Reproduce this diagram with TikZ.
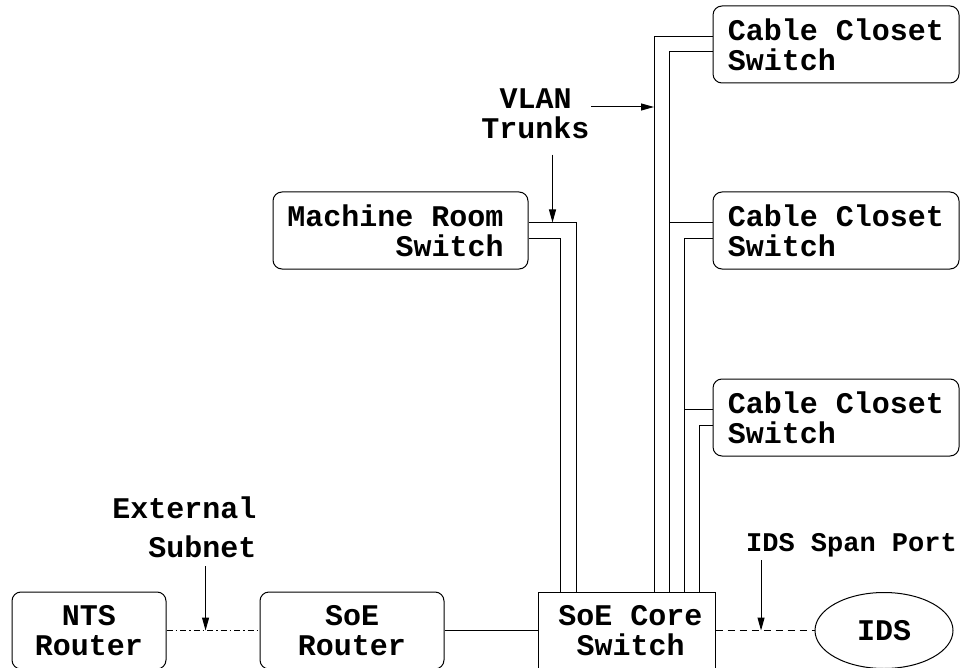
\documentclass[tikz,border=0pt]{standalone}
\usepackage{fontspec}
\newfontfamily\courfont{Liberation Mono}
\usetikzlibrary{positioning, arrows.meta, shapes.geometric}

\begin{document}
\begin{tikzpicture}[
	x=1pt, y=-1pt,
	node distance=108pt and 93pt,
	every node/.style={font=\courfont\bfseries\fontsize{30}{30}\selectfont},
	switchbox/.style={rectangle, draw, rounded corners=9pt, minimum height=77pt, inner sep=0pt},
	corebox/.style={rectangle, draw, minimum width=177pt, minimum height=77pt, inner sep=0pt, align=center},
	idsnode/.style={ellipse, draw, minimum width=138pt, minimum height=76pt, inner sep=0pt},
	lbl/.style={inner sep=0pt},
	>={Triangle[length=13pt, width=7pt]},
	line width=1pt,
]
	\useasboundingbox (0,0) rectangle (963,668);
	\clip (0,0) rectangle (963,668);

	% Cable closet switches
	\node[switchbox, minimum width=246pt, align=left] (cc1) at (836,44.5) {Cable Closet\\Switch};
	\node[switchbox, minimum width=246pt, align=left, below=of cc1] (cc2) {Cable Closet\\Switch};
	\node[switchbox, minimum width=246pt, align=left, below=109pt of cc2] (cc3) {Cable Closet\\Switch};

	% Machine room switch
	\node[switchbox, minimum width=255pt, align=right] (mr) at (400.5,230.5) {Machine Room\hspace*{10pt}\\Switch\hspace*{10pt}};

	% Bottom row
	\node[switchbox, minimum width=154pt, align=center] (nts) at (89,630.5) {NTS\\Router};
	\node[switchbox, minimum width=184pt, align=center, right=of nts] (soer) {SoE\\Router};
	\node[corebox, right=of soer] (core) {\hspace*{8pt}SoE Core\\\hspace*{8pt}Switch};
	\node[idsnode, right=99pt of core] (ids) {IDS};

	% Trunk ports on the core switch
	\coordinate (tm2) at ([xshift=-66pt]core.north);
	\coordinate (tm1) at ([xshift=-50pt]core.north);
	\coordinate (tr1) at ([xshift=27.5pt]core.north);
	\coordinate (tr2) at ([xshift=42.5pt]core.north);
	\coordinate (tr3) at ([xshift=57.5pt]core.north);
	\coordinate (tr4) at ([xshift=72.5pt]core.north);

	% VLAN trunks
	\draw ([yshift=8pt]mr.east) -| coordinate[pos=0.25] (mrmid) (tm1);
	\draw ([yshift=-8pt]mr.east) -| (tm2);
	\draw ([yshift=7.5pt]cc1.west) -| (tr1);
	\draw ([yshift=-7.5pt]cc1.west) -| (tr2);
	\draw ([yshift=8pt]cc2.west) -| (tr2);
	\draw ([yshift=-8pt]cc2.west) -| (tr3);
	\draw ([yshift=8pt]cc3.west) -| (tr3);
	\draw ([yshift=-8pt]cc3.west) -| (tr4);

	% Router links
	\draw[dash pattern=on 6pt off 3pt on 1.5pt off 3pt] (nts) -- coordinate[pos=0.42] (extpt) (soer);
	\draw (soer) -- (core);
	\draw[dash pattern=on 7pt off 5pt] (core) -- coordinate[pos=0.46] (spanpt) (ids);

	% Labels
	\node[lbl, align=center] (vlan) at (535.5,114) {VLAN\\Trunks};
	\node[lbl, align=right, anchor=east] (ext) at (257,527) {External\\[9pt]Subnet};
	\node[lbl, font=\courfont\bfseries\fontsize{27}{27}\selectfont] (span) at (851.5,545) {IDS Span Port};

	\draw[->] ([xshift=1pt, yshift=7pt]vlan.east) -- ([yshift=7pt]vlan.east -| tr1);
	\draw[->] ([yshift=-15pt]vlan.south -| mrmid) -- (mrmid);
	\draw[->] ([yshift=-8pt]ext.south -| extpt) -- (extpt);
	\draw[->] ([yshift=-3pt]span.south -| spanpt) -- (spanpt);
\end{tikzpicture}
\end{document}
